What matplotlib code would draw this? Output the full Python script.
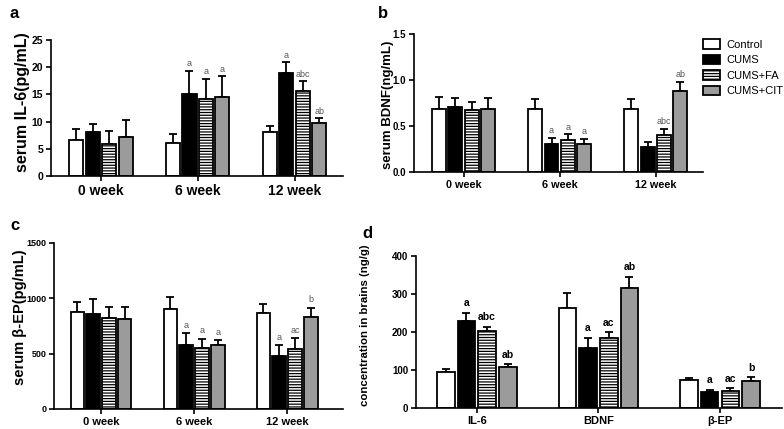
import matplotlib
matplotlib.use("Agg")
import matplotlib.pyplot as plt
import numpy as np

plt.rcParams['font.family'] = ['Liberation Sans', 'DejaVu Sans']
plt.rcParams['hatch.linewidth'] = 0.9

groups_time = ["0 week", "6 week", "12 week"]
groups_brain = ["IL-6", "BDNF", "β-EP"]
series = ["Control", "CUMS", "CUMS+FA", "CUMS+CIT"]

# Panel a: serum IL-6 (pg/mL)
a_mean = [[6.7, 6.1, 8.1], [8.0, 15.0, 18.9], [5.9, 14.2, 15.6], [7.2, 14.6, 9.7]]
a_err = [[1.9, 1.6, 1.0], [1.6, 4.3, 2.0], [2.3, 3.7, 1.8], [3.1, 3.7, 0.9]]
a_sig = [["", "", ""], ["", "a", "a"], ["", "a", "abc"], ["", "a", "ab"]]

# Panel b: serum BDNF (ng/mL)
b_mean = [[0.69, 0.68, 0.68], [0.71, 0.30, 0.27], [0.67, 0.35, 0.40], [0.68, 0.30, 0.88]]
b_err = [[0.13, 0.11, 0.11], [0.09, 0.07, 0.06], [0.09, 0.06, 0.07], [0.12, 0.06, 0.10]]
b_sig = [["", "", ""], ["", "a", ""], ["", "a", "abc"], ["", "a", "ab"]]

# Panel c: serum beta-EP (pg/mL)
c_mean = [[880, 900, 865], [860, 580, 480], [820, 555, 545], [815, 575, 835]]
c_err = [[85, 110, 80], [130, 105, 95], [105, 80, 95], [110, 45, 80]]
c_sig = [["", "", ""], ["", "a", "a"], ["", "a", "ac"], ["", "a", "b"]]

# Panel d: concentration in brains (ng/g)
d_mean = [[95, 262, 74], [230, 158, 42], [202, 184, 46], [108, 317, 71]]
d_err = [[8, 40, 5], [20, 27, 6], [12, 15, 6], [7, 28, 10]]
d_sig = [["", "", ""], ["a", "a", "a"], ["abc", "ac", "ac"], ["ab", "ab", "b"]]

W, H = 784, 429
fig = plt.figure(figsize=(W / 100, H / 100), dpi=100)

def px_axes(l, r, t, b):
    return fig.add_axes([l / W, (H - b) / H, (r - l) / W, (b - t) / H])

faces = ["white", "black", "white", "#9b9b9b"]
hatches = [None, None, "------", None]
step = 0.17
width = 0.145

def draw(ax, cats, means, errs, sigs, ylim, yticks, yticklabels, xlim,
         ytick_fs, xtick_fs, sig_bold=False, sig_color="#555555", sig_size=6.5, sig_pad=0.02):
    x = np.arange(len(cats))
    for i in range(4):
        pos = x + (i - 1.5) * step
        ax.bar(pos, means[i], width=width, color=faces[i], edgecolor="black",
               linewidth=1.3, hatch=hatches[i], zorder=2, label=series[i])
        ax.errorbar(pos, means[i], yerr=[np.zeros(len(cats)), errs[i]], fmt="none",
                    ecolor="black", elinewidth=1.3, capsize=3.2, capthick=1.3, zorder=1)
        for j in range(len(cats)):
            if sigs[i][j]:
                ax.text(pos[j], means[i][j] + errs[i][j] + (ylim[1] - ylim[0]) * sig_pad,
                        sigs[i][j], ha="center", va="bottom", fontsize=sig_size,
                        color=sig_color, fontweight="bold" if sig_bold else "normal")
    ax.set_xlim(*xlim)
    ax.set_ylim(*ylim)
    ax.set_yticks(yticks)
    ax.set_yticklabels(yticklabels, fontsize=ytick_fs, fontweight="bold")
    ax.set_xticks(x)
    ax.set_xticklabels(cats, fontsize=xtick_fs, fontweight="bold")
    for s in ["top", "right"]:
        ax.spines[s].set_visible(False)
    for s in ["left", "bottom"]:
        ax.spines[s].set_linewidth(1.2)
    ax.tick_params(axis="both", width=1.2, length=3.5, pad=2)

def ylab(text, xc, yc, fs):
    fig.text(xc / W, 1 - yc / H, text, rotation=90, ha="center", va="center",
             fontsize=fs, fontweight="bold")

axa = px_axes(51, 343, 40, 176)
draw(axa, groups_time, a_mean, a_err, a_sig, (0, 25), [0, 5, 10, 15, 20, 25],
     ["0", "5", "10", "15", "20", "25"], (-0.515, 2.5), 7.5, 10)
ylab("serum IL-6(pg/mL)", 23, 102, 11.5)

axb = px_axes(414, 703, 34, 172)
draw(axb, groups_time, b_mean, b_err, b_sig, (0, 1.5), [0, 0.5, 1.0, 1.5],
     ["0.0", "0.5", "1.0", "1.5"], (-0.515, 2.49), 7, 7.8)
ylab("serum BDNF(ng/mL)", 388, 105, 9.5)

axc = px_axes(54, 343, 243, 409)
draw(axc, groups_time, c_mean, c_err, c_sig, (0, 1500), [0, 500, 1000, 1500],
     ["0", "500", "1000", "1500"], (-0.505, 2.6), 6.5, 8)
ylab("serum β-EP(pg/mL)", 20, 317, 10.5)

axd = px_axes(416, 782, 256, 408)
draw(axd, groups_brain, d_mean, d_err, d_sig, (0, 400), [0, 100, 200, 300, 400],
     ["0", "100", "200", "300", "400"], (-0.5, 2.51), 7, 8,
     sig_bold=True, sig_color="black", sig_size=7.5, sig_pad=0.03)
ylab("concentration in brains (ng/g)", 365, 325, 8.2)

handles, labels = axb.get_legend_handles_labels()
fig.legend(handles, labels, loc="upper left", bbox_to_anchor=(699 / W, 1 - 35 / H),
           frameon=False, fontsize=8, handlelength=1.5, handleheight=0.9,
           handletextpad=0.6, labelspacing=0.45, borderaxespad=0)

for letter, xp, yp in [("a", 10, 13), ("b", 378, 13), ("c", 10, 225), ("d", 362, 233)]:
    fig.text(xp / W, 1 - yp / H, letter, fontsize=12, fontweight="bold", va="center", ha="left")

fig.savefig("out.png", dpi=100)
